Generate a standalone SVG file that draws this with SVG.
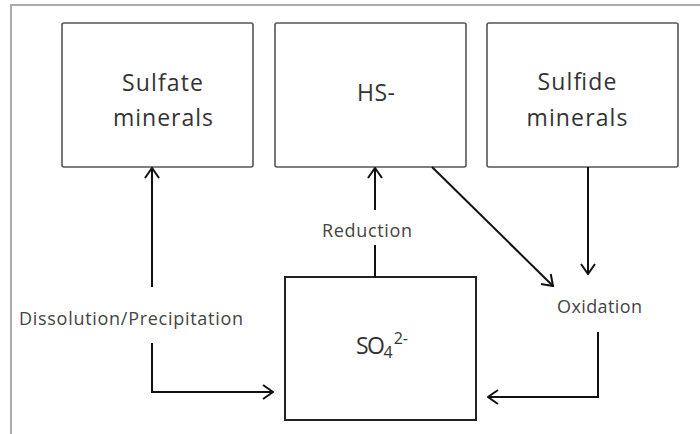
<svg xmlns="http://www.w3.org/2000/svg" width="700" height="434" viewBox="0 0 700 434">
<style>
.frame{fill:none;stroke:#ababab;stroke-width:2}
.box{fill:#fff;stroke:#555;stroke-width:1.6}
.box2{fill:#fff;stroke:#222;stroke-width:2}
.nt{font-family:"Open Sans","DejaVu Sans",sans-serif;font-size:23px;fill:#333}
.lt{font-family:"Open Sans","DejaVu Sans",sans-serif;font-size:18px;fill:#444}
.c{fill:none;stroke:#111;stroke-width:2}
</style>
<defs>
<marker id="ah" viewBox="0 0 12 16" refX="11" refY="8" markerWidth="12" markerHeight="16" markerUnits="userSpaceOnUse" orient="auto">
<path d="M1,1 L11,8 L1,15" fill="none" stroke="#111" stroke-width="2"/>
</marker>
</defs>
<rect class="frame" x="11" y="5" width="700" height="440"/>
<g id="sulfate">
<rect class="box" x="62" y="23" width="191" height="144" rx="2"/>
<text class="nt" x="162.5" y="91" text-anchor="middle" textLength="81" lengthAdjust="spacing">Sulfate</text>
<text class="nt" x="163" y="126" text-anchor="middle" textLength="100" lengthAdjust="spacing">minerals</text>
</g>
<g id="hs">
<rect class="box" x="275" y="23" width="191" height="144" rx="2"/>
<text class="nt" x="357" y="101" textLength="38" lengthAdjust="spacing">HS-</text>
</g>
<g id="sulfide">
<rect class="box" x="487" y="23" width="191" height="144" rx="2"/>
<text class="nt" x="577" y="90" text-anchor="middle" textLength="79" lengthAdjust="spacing">Sulfide</text>
<text class="nt" x="577" y="126" text-anchor="middle" textLength="101" lengthAdjust="spacing">minerals</text>
</g>
<g id="so4">
<rect class="box2" x="285" y="277" width="191" height="143"/>
<text class="nt" x="356" y="354"><tspan textLength="29" lengthAdjust="spacing">SO</tspan><tspan font-size="16" dy="4">4</tspan><tspan font-size="16" dy="-14" dx="1">2-</tspan></text>
</g>
<g id="connectors">
<polyline class="c" points="152,287 152,168" marker-end="url(#ah)"/>
<polyline class="c" points="152,343 152,392 273,392" marker-end="url(#ah)"/>
<polyline class="c" points="375,210 375,168" marker-end="url(#ah)"/>
<line class="c" x1="375" y1="245" x2="375" y2="277"/>
<polyline class="c" points="432,167 553,286" marker-end="url(#ah)"/>
<polyline class="c" points="588,167 588,274" marker-end="url(#ah)"/>
<polyline class="c" points="598,332 598,397 488,397" marker-end="url(#ah)"/>
</g>
<g id="labels">
<text class="lt" x="19" y="325" textLength="224" lengthAdjust="spacing">Dissolution/Precipitation</text>
<text class="lt" x="322" y="237" textLength="90" lengthAdjust="spacing">Reduction</text>
<text class="lt" x="557" y="313" textLength="85" lengthAdjust="spacing">Oxidation</text>
</g>
</svg>
